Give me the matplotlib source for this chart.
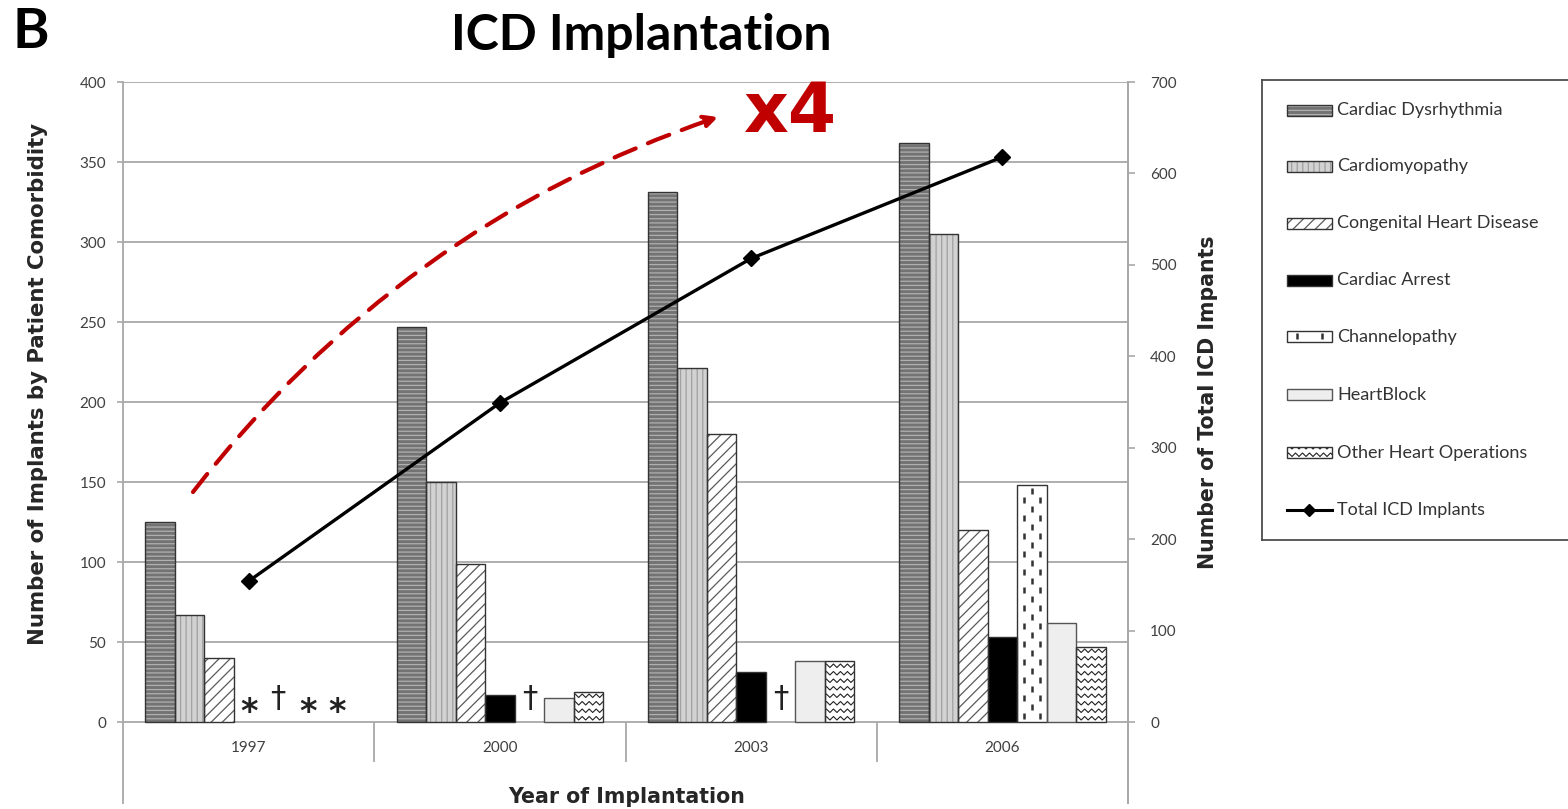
import numpy as np
import matplotlib
matplotlib.use('Agg')
import matplotlib.pyplot as plt
from matplotlib.patches import Rectangle

years = ['1997', '2000', '2003', '2006']
dysrhythmia = [125, 247, 331, 362]
cardiomyopathy = [67, 150, 221, 305]
congenital = [40, 99, 180, 120]
cardiac_arrest = [np.nan, 17, 31, 53]
channelopathy = [np.nan, np.nan, np.nan, 148]
heart_block = [np.nan, 15, 38, 62]
other_ops = [np.nan, 19, 38, 47]
total_icd = [154, 349, 507, 618]

# footnote marks for counts that were not reported
arrest_notes = ['*', '', '', '']
channel_notes = ['\u2020', '\u2020', '\u2020', '']
block_notes = ['*', '', '', '']
other_notes = ['*', '', '', '']

series = [
    ('Cardiac Dysrhythmia', dysrhythmia, dict(face='#737373', hatch='----', hc='#b0b0b0'), None),
    ('Cardiomyopathy', cardiomyopathy, dict(face='#d2d2d2', hatch='|||', hc='#a0a0a0'), None),
    ('Congenital Heart Disease', congenital, dict(face='white', hatch='///', hc='#5a5a5a'), None),
    ('Cardiac Arrest', cardiac_arrest, dict(face='black', hatch=None, hc='black'), arrest_notes),
    ('Channelopathy', channelopathy, dict(face='white', hatch=None, hc='black', tex='dashes'), channel_notes),
    ('HeartBlock', heart_block, dict(face='#eeeeee', hatch=None, hc='#eeeeee', edge='#555555'), block_notes),
    ('Other Heart Operations', other_ops, dict(face='white', hatch=None, hc='black', tex='zigzag'), other_notes),
]

plt.rcParams['hatch.linewidth'] = 0.9
W, H = 1568, 809
fig = plt.figure(figsize=(W / 100, H / 100), dpi=100)

left, right, top, bottom = 123, 1128, 82, 803
ax = fig.add_axes([left / W, 1 - bottom / H, (right - left) / W, (bottom - top) / H])
ymin = -(bottom - 722) / 1.6
ax.set_xlim(-0.5, 3.5)
ax.set_ylim(ymin, 400)
px_x = 4 / (right - left)
px_y = (400 - ymin) / (bottom - top)


def dress(axis, patch, st, sx, sy):
    """outline plus the hand-drawn textures matplotlib has no hatch for"""
    x0, y0 = patch.get_x(), patch.get_y()
    w, h = patch.get_width(), patch.get_height()
    axis.add_patch(Rectangle((x0, y0), w, h, fill=False,
                             edgecolor=st.get('edge', '#333333'), lw=1.0, zorder=3))
    kind = st.get('tex')
    if kind == 'zigzag':
        xs = np.arange(x0 - 2 * sx, x0 + w + 4 * sx, 3.5 * sx)
        wave = (np.arange(len(xs)) % 2) * 3.5 * sy
        row = 2 * sy
        while row < h:
            ln, = axis.plot(xs, y0 + row + wave, color='#222222', lw=0.8, zorder=2.5)
            ln.set_clip_path(patch)
            row += 7.5 * sy
    elif kind == 'dashes':
        for k, frac in enumerate((0.22, 0.5, 0.78)):
            shift = 9 if k == 1 else 0
            ys = np.arange(y0 + (3 + shift) * sy, y0 + h, 18 * sy)
            lc = axis.vlines(np.full(len(ys), x0 + frac * w), ys, ys + 6 * sy,
                             color='#333333', lw=1.8, zorder=2.5)
            lc.set_clip_path(patch)


# gridlines and axes frame
grid_c = '#a8a8a8'
ax.set_yticks(np.arange(0, 401, 50))
ax.set_xticks([])
ax.grid(axis='y', color=grid_c, lw=1.3)
ax.set_axisbelow(True)
for s in ('top', 'bottom'):
    ax.spines[s].set_visible(False)
for s in ('left', 'right'):
    ax.spines[s].set_color(grid_c)
    ax.spines[s].set_linewidth(1.3)
ax.tick_params(axis='y', length=4, width=1.2, color=grid_c, pad=8,
               labelsize=11, labelcolor='#404040')
for lab in ax.get_yticklabels():
    lab.set_family('Lato')

# category axis below zero
ax.vlines([0.5, 1.5, 2.5], -25, 0, color=grid_c, lw=1.3)
for i, yr in enumerate(years):
    ax.text(i, -16.3, yr, ha='center', va='center', fontsize=11,
            color='#404040', family='Lato')

x = np.arange(len(years))
bw = 0.1175
for i, (name, vals, st, notes) in enumerate(series):
    pos = x + (i - 3) * bw
    bars = ax.bar(pos, vals, bw, color=st['face'], hatch=st['hatch'],
                  edgecolor=st['hc'], linewidth=0, zorder=2)
    for b in bars:
        if not np.isnan(b.get_height()):
            dress(ax, b, st, px_x, px_y)
    if notes:
        for p, n in zip(pos, notes):
            if n == '*':
                ax.text(p, 6, n, ha='center', va='center', fontsize=24,
                        fontweight='bold', family='DejaVu Sans', color='#222222')
            elif n:
                ax.text(p, 15, n, ha='center', va='center', fontsize=22,
                        family='DejaVu Sans', color='#222222')

# total implants on the secondary axis
ax2 = ax.twinx()
ax2.set_ylim(ymin * 700 / 400, 700)
ax2.set_yticks(np.arange(0, 701, 100))
ax2.plot(x, total_icd, color='black', lw=2.4, marker='D', ms=8, zorder=5)
for s in ('top', 'bottom', 'left'):
    ax2.spines[s].set_visible(False)
ax2.spines['right'].set_color(grid_c)
ax2.spines['right'].set_linewidth(1.3)
ax2.tick_params(axis='y', length=5, width=1.2, color=grid_c, pad=11,
                labelsize=11, labelcolor='#404040')
for lab in ax2.get_yticklabels():
    lab.set_family('Lato')

# titles and axis labels
fig.text(641 / W, 1 - 35 / H, 'ICD Implantation', ha='center', va='center',
         fontsize=36, fontweight='bold', family='Lato')
fig.text(31 / W, 1 - 32 / H, 'B', ha='center', va='center',
         fontsize=40, fontweight='bold', family='Lato')
fig.text(38 / W, 1 - 384 / H, 'Number of Implants by Patient Comorbidity',
         rotation=90, ha='center', va='center', fontsize=15.3,
         fontweight='bold', family='DejaVu Sans', color='#262626')
fig.text(1208 / W, 1 - 402 / H, 'Number of Total ICD Impants',
         rotation=90, ha='center', va='center', fontsize=14.8,
         fontweight='bold', family='DejaVu Sans', color='#262626')
fig.text(627 / W, 1 - 797 / H, 'Year of Implantation', ha='center', va='center',
         fontsize=14.8, fontweight='bold', family='DejaVu Sans', color='#262626')

# growth arrow
ax.annotate('', xy=(718, H - 117), xycoords='figure pixels',
            xytext=(193, H - 492), textcoords='figure pixels',
            arrowprops=dict(arrowstyle='-|>', mutation_scale=20,
                            connectionstyle='arc3,rad=-0.15', color='#c00000',
                            lw=3, linestyle=(0, (5.5, 3.2)),
                            shrinkA=0, shrinkB=0),
            annotation_clip=False)
fig.text(791 / W, 1 - 112 / H, 'x4', ha='center', va='center', fontsize=50,
         fontweight='bold', family='DejaVu Sans', color='#c00000')

# legend box drawn in figure pixels
lx0, ly_top, ly_bot = 1262, 80, 540
lax = fig.add_axes([lx0 / W, 1 - ly_bot / H, 0.3, (ly_bot - ly_top) / H])
lax.set_xlim(lx0, lx0 + 0.3 * W)
lax.set_ylim(H - ly_bot, H - ly_top)
lax.set_xticks([])
lax.set_yticks([])
for s in lax.spines.values():
    s.set_color('#4d4d4d')
    s.set_linewidth(1.3)

entry_y = [110, 166, 223, 280, 337, 395, 453, 510]
sw_x, sw_w, sw_h = 1287, 45, 11
for (name, vals, st, notes), yy in zip(series, entry_y):
    yc = H - yy
    sw = Rectangle((sw_x, yc - sw_h / 2), sw_w, sw_h, facecolor=st['face'],
                   hatch=st['hatch'], edgecolor=st['hc'], lw=0)
    lax.add_patch(sw)
    dress(lax, sw, st, 1, 1)
    lax.text(1337, yc, name, va='center', fontsize=13, color='#333333', family='Lato')
yc = H - entry_y[-1]
lax.plot([sw_x, sw_x + sw_w], [yc, yc], color='black', lw=2.2)
lax.plot([sw_x + sw_w / 2], [yc], marker='D', ms=6, color='black')
lax.text(1337, yc, 'Total ICD Implants', va='center', fontsize=13,
         color='#333333', family='Lato')

fig.savefig('out.png', dpi=100)
